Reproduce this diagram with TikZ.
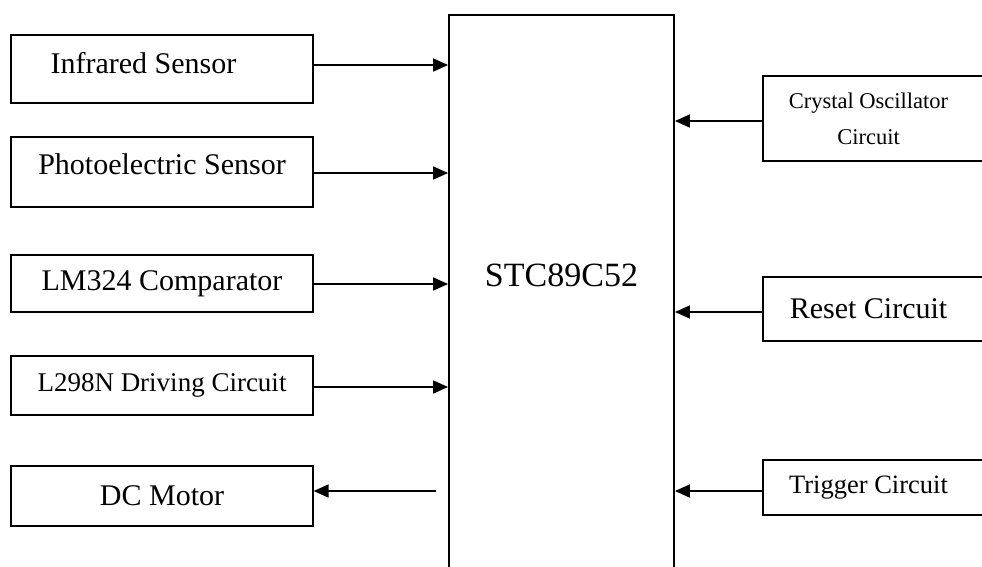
\documentclass[tikz,border=0pt]{standalone}
\usepackage{fontspec}
\setmainfont{Liberation Serif}
\usepackage{tikz}
\usetikzlibrary{arrows.meta}
\usetikzlibrary{positioning}

\begin{document}
\begin{tikzpicture}[
    x=1pt, y=-1pt,
    >={Triangle[length=15pt, width=13pt]},
    block/.style={draw=black, line width=1.2pt, minimum width=302pt, align=center, font=\fontsize{30}{36}\selectfont},
    side/.style={draw=black, line width=1.2pt, minimum width=227pt, align=center, font=\fontsize{30}{36}\selectfont},
    chip/.style={draw=black, line width=1.8pt, minimum width=225pt, minimum height=585pt},
    conn/.style={->, line width=1.6pt}
]
\useasboundingbox (0,0) rectangle (982,566);
\clip (0,0) rectangle (982,566);

% ── Coluna da esquerda ─────────────────────────────
\node[block, minimum height=68pt, text depth=12pt] (ir) at (162,69) {Infrared Sensor\hspace*{37pt}};
\node[block, minimum height=70pt, text depth=16pt] (pe) at (162,172) {Photoelectric Sensor};
\node[block, minimum height=57pt] (cmp) at (162,283.5) {LM324 Comparator};
\node[block, minimum height=59pt, font=\fontsize{27}{32}\selectfont] (drv) at (162,385.5) {L298N Driving Circuit};
\node[block, minimum height=60pt] (dcm) at (162,496) {DC Motor};

% ── Microcontrolador ───────────────────────────────
\node[chip] (stc) at (561.5,307.5) {};
\node[font=\fontsize{34}{40}\selectfont] (stclbl) at (561.5,275) {STC89C52};

% ── Coluna da direita ──────────────────────────────
\node[side, minimum height=85pt, font=\fontsize{22.5}{36}\selectfont] (osc) at (876.5,118.5) {Crystal Oscillator\hspace*{16pt}\\Circuit\hspace*{16pt}};
\node[side, minimum height=64pt] (rst) at (876.5,309) {Reset Circuit\hspace*{16pt}};
\node[side, minimum height=55pt, font=\fontsize{26.5}{32}\selectfont] (trg) at (876.5,487.5) {Trigger Circuit\hspace*{16pt}};

% ── Setas de entrada ───────────────────────────────
\draw[conn] ([yshift=4pt]ir.east) -- ([yshift=4pt]ir.east -| stc.west);
\draw[conn] ([yshift=-1pt]pe.east) -- ([yshift=-1pt]pe.east -| stc.west);
\draw[conn] ([yshift=-0.5pt]cmp.east) -- ([yshift=-0.5pt]cmp.east -| stc.west);
\draw[conn] ([yshift=-1.5pt]drv.east) -- ([yshift=-1.5pt]drv.east -| stc.west);

% ── Saída para o motor ─────────────────────────────
\coordinate (mout) at (436,491);
\draw[conn] (mout) -- (mout -| dcm.east);

\draw[conn] ([yshift=-2.5pt]osc.west) -- ([yshift=-2.5pt]osc.west -| stc.east);
\draw[conn] ([yshift=-3pt]rst.west) -- ([yshift=-3pt]rst.west -| stc.east);
\draw[conn] ([yshift=-3.5pt]trg.west) -- ([yshift=-3.5pt]trg.west -| stc.east);

\end{tikzpicture}
\end{document}
